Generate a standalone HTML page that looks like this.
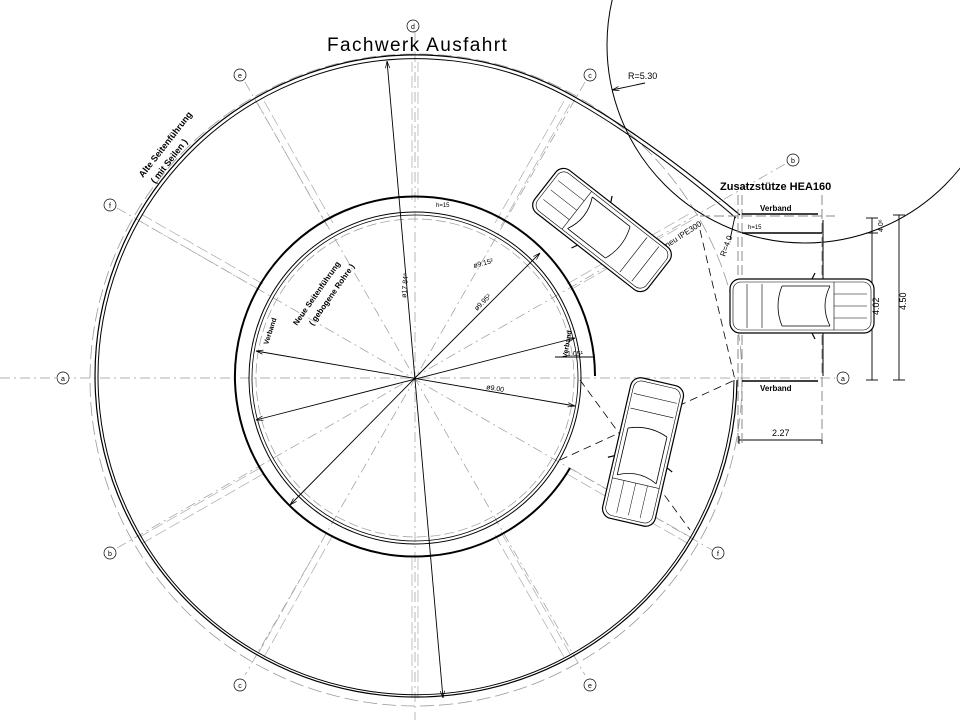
<!DOCTYPE html>
<html><head><meta charset="utf-8"><style>
html,body{margin:0;padding:0;background:#fff;}
svg{display:block;font-family:"Liberation Sans",sans-serif;}
</style></head><body>
<svg width="960" height="720" viewBox="0 0 960 720" xmlns="http://www.w3.org/2000/svg">
<defs>
<marker id="ar" viewBox="0 0 10 10" refX="10" refY="5" markerWidth="8" markerHeight="8" orient="auto-start-reverse"><path d="M0,2 L10,5 L0,8" fill="none" stroke="#000" stroke-width="1"/></marker>
<g id="car">
 <rect x="-72" y="-27" width="144" height="54" rx="10" fill="#fff" stroke="#000" stroke-width="1.2"/>
 <rect x="-69" y="-24" width="138" height="48" rx="8" fill="none" stroke="#000" stroke-width="0.6"/>
 <path d="M-28,-20 Q-18,0 -28,20 M20,-20 Q28,0 20,20 M-28,-20 L20,-20 M-28,20 L20,20" fill="none" stroke="#000" stroke-width="0.8"/>
 <path d="M-65,-12 L-32,-12 M-65,0 L-32,0 M-65,12 L-32,12" stroke="#000" stroke-width="0.5"/>
 <path d="M-32,-24 L-32,24 M40,-22 L40,22 M55,-22 L55,22" stroke="#000" stroke-width="0.6"/>
 <path d="M-10,-27 l-3,-6 M-10,27 l-3,6" stroke="#000" stroke-width="1.2"/>
</g>
</defs>

<g stroke="#999" stroke-width="0.7" stroke-dasharray="10,4,2,4" fill="none">
 <line x1="0" y1="378" x2="835" y2="378"/>
 <line x1="415" y1="32" x2="415" y2="720"/>
 <line x1="245" y1="82" x2="585" y2="675"/>
 <line x1="585" y1="82" x2="245" y2="675"/>
 <line x1="117" y1="208" x2="712" y2="550"/>
 <line x1="117" y1="548" x2="787" y2="163"/>
</g>
<g stroke="#aaa" stroke-width="0.7" stroke-dasharray="12,4" fill="none">
 <line x1="412" y1="200" x2="412" y2="62"/><line x1="418" y1="200" x2="418" y2="62"/>
 <line x1="412" y1="558" x2="412" y2="700"/><line x1="418" y1="558" x2="418" y2="700"/>
 <line x1="327" y1="226" x2="258" y2="104"/><line x1="333" y1="223" x2="264" y2="101"/>
 <line x1="501" y1="226" x2="570" y2="104"/><line x1="495" y1="223" x2="564" y2="101"/>
 <line x1="260" y1="290" x2="138" y2="220"/><line x1="263" y1="284" x2="141" y2="214"/>
 <line x1="260" y1="468" x2="138" y2="538"/><line x1="263" y1="474" x2="141" y2="544"/>
 <line x1="327" y1="532" x2="258" y2="654"/><line x1="333" y1="535" x2="264" y2="657"/>
 <line x1="501" y1="532" x2="570" y2="654"/><line x1="495" y1="535" x2="564" y2="657"/>
 <line x1="570" y1="468" x2="692" y2="538"/><line x1="567" y1="474" x2="689" y2="544"/>
 <line x1="570" y1="290" x2="692" y2="220"/><line x1="567" y1="284" x2="689" y2="214"/>
</g>

<circle cx="416" cy="380" r="326" fill="none" stroke="#999" stroke-width="0.8" stroke-dasharray="14,5"/>
<g fill="none" stroke="#000">
 <path d="M737,380 A321,321 0 1 1 580,100 Q650,140 740,215" stroke-width="1.2"/>
 <path d="M734,380 A318,318 0 1 1 578,103 Q648,143 736,218" stroke-width="1"/>
</g>
<circle cx="415" cy="378" r="166" fill="none" stroke="#000" stroke-width="1"/>
<circle cx="415" cy="378" r="163" fill="none" stroke="#000" stroke-width="0.8"/>
<circle cx="415" cy="378" r="159" fill="none" stroke="#999" stroke-width="0.7" stroke-dasharray="10,4"/>
<path d="M595,376 A180,180 0 1 0 570,468" fill="none" stroke="#000" stroke-width="2"/>

<circle cx="805" cy="45" r="198" fill="none" stroke="#000" stroke-width="1"/>

<g stroke="#000" stroke-width="0.9" fill="none">
 <line x1="387" y1="61" x2="443" y2="698" marker-start="url(#ar)" marker-end="url(#ar)"/>
 <line x1="415" y1="378" x2="540" y2="253" marker-end="url(#ar)"/>
 <line x1="415" y1="378" x2="290" y2="505" marker-end="url(#ar)"/>
 <line x1="256" y1="351" x2="575" y2="406" marker-start="url(#ar)" marker-end="url(#ar)"/>
 <line x1="256" y1="420" x2="575" y2="338" marker-start="url(#ar)" marker-end="url(#ar)"/>
 <line x1="555" y1="357" x2="595" y2="357"/>
 <line x1="872" y1="218" x2="872" y2="380"/><line x1="866" y1="218" x2="878" y2="218"/><line x1="866" y1="380" x2="878" y2="380"/><line x1="866" y1="233" x2="878" y2="233"/>
 <line x1="899" y1="215" x2="899" y2="380"/><line x1="893" y1="215" x2="905" y2="215"/><line x1="893" y1="380" x2="905" y2="380"/>
 <line x1="739" y1="440" x2="822" y2="440"/><line x1="739" y1="436" x2="739" y2="444"/><line x1="822" y1="436" x2="822" y2="444"/>
 <line x1="645" y1="83" x2="612" y2="90" marker-end="url(#ar)"/>
 <line x1="735" y1="216" x2="730" y2="240"/>
</g>
<g stroke="#000" stroke-width="0.8" stroke-dasharray="8,5" fill="none">
 <line x1="580" y1="380" x2="690" y2="530"/>
 <line x1="560" y1="460" x2="735" y2="380"/>
 <line x1="700" y1="230" x2="735" y2="380"/>
</g>

<g stroke="#888" stroke-width="1" stroke-dasharray="10,4" fill="none">
 <line x1="738" y1="195" x2="738" y2="445"/><line x1="742" y1="195" x2="742" y2="445"/>
 <line x1="822" y1="195" x2="822" y2="440"/>
 <line x1="700" y1="216" x2="835" y2="216"/>
</g>
<g stroke="#000" stroke-width="1.4">
 <line x1="742" y1="214" x2="818" y2="214"/>
 <line x1="742" y1="233" x2="822" y2="233"/>
 <line x1="742" y1="381" x2="818" y2="381"/>
 <line x1="823" y1="220" x2="823" y2="376" stroke-width="1"/>
</g>

<use href="#car" transform="translate(602,230) rotate(38)"/>
<use href="#car" transform="translate(802,306) rotate(180)"/>
<use href="#car" transform="translate(643,452) rotate(-77)"/>

<g fill="#fff" stroke="#000" stroke-width="0.7">
 <circle cx="63" cy="378" r="6"/><circle cx="843" cy="378" r="6"/>
 <circle cx="413" cy="26" r="6"/><circle cx="240" cy="75" r="6"/><circle cx="590" cy="75" r="6"/>
 <circle cx="110" cy="205" r="6"/><circle cx="793" cy="160" r="6"/>
 <circle cx="110" cy="553" r="6"/><circle cx="718" cy="553" r="6"/>
 <circle cx="240" cy="685" r="6"/><circle cx="590" cy="685" r="6"/>
</g>
<g font-size="7" text-anchor="middle" fill="#000">
 <text x="63" y="381">a</text><text x="843" y="381">a</text>
 <text x="413" y="29">d</text><text x="240" y="78">e</text><text x="590" y="78">c</text>
 <text x="110" y="208">f</text><text x="793" y="163">b</text>
 <text x="110" y="556">b</text><text x="718" y="556">f</text>
 <text x="240" y="688">c</text><text x="590" y="688">e</text>
</g>

<text x="327" y="51" font-size="19" letter-spacing="1.4" fill="#000">Fachwerk Ausfahrt</text>
<text x="720" y="190" font-size="11" font-weight="bold" fill="#000">Zusatzstütze HEA160</text>
<text x="760" y="211" font-size="8" font-weight="bold" fill="#000">Verband</text>
<text x="760" y="391" font-size="8" font-weight="bold" fill="#000">Verband</text>
<text x="748" y="229" font-size="6" fill="#000">h=15</text>
<text x="436" y="207" font-size="6" fill="#000">h=15</text>
<text x="628" y="79" font-size="9" fill="#000">R=5.30</text>
<text x="772" y="436" font-size="9" fill="#000">2.27</text>
<text transform="translate(879,315) rotate(-90)" font-size="9" fill="#000">4.02</text>
<text transform="translate(906,310) rotate(-90)" font-size="9" fill="#000">4.50</text>
<text transform="translate(883,232) rotate(-90)" font-size="7" fill="#000">4.0⁶</text>
<text transform="translate(725,257) rotate(-70)" font-size="8" fill="#000">R=4.0</text>
<text transform="translate(667,248) rotate(-33)" font-size="8" fill="#000">neu IPE300</text>
<text transform="translate(143,178) rotate(-52)" font-size="9" font-weight="bold" fill="#000">Alte Seitenführung</text>
<text transform="translate(155,184) rotate(-52)" font-size="9" font-weight="bold" fill="#000">( mit Seilen )</text>
<text transform="translate(297,326) rotate(-55)" font-size="8" font-weight="bold" fill="#000">Neue Seitenführung</text>
<text transform="translate(313,326) rotate(-55)" font-size="8" font-weight="bold" fill="#000">( gebogene Rohre )</text>
<text transform="translate(268,345) rotate(-72)" font-size="7" font-weight="bold" fill="#000">Verband</text>
<text transform="translate(567,358) rotate(-80)" font-size="7" font-weight="bold" fill="#000">Verband</text>
<text x="567" y="356" font-size="7" fill="#000">1.05¹</text>
<text transform="translate(406,298) rotate(-85)" font-size="7" fill="#000">ø17.84⁸</text>
<text transform="translate(474,268) rotate(-15)" font-size="7" fill="#000">ø9.15²</text>
<text transform="translate(477,311) rotate(-45)" font-size="7" fill="#000">ø9.95²</text>
<text transform="translate(486,389) rotate(10)" font-size="7" fill="#000">ø9.00</text>
</svg>
</body></html>
